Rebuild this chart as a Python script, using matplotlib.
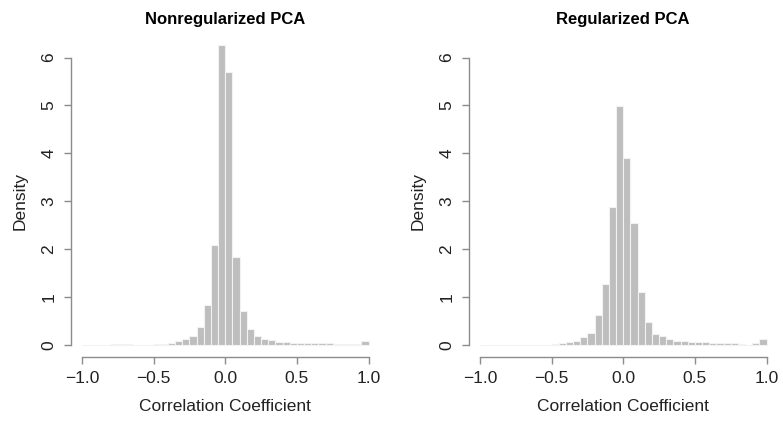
import numpy as np
import matplotlib.pyplot as plt

plt.rcParams['font.family'] = ['Liberation Sans', 'DejaVu Sans']

# histogram bins: 40 bins of 0.05 from -1 to 1
bin_edges = np.linspace(-1, 1, 41)

# density values
dens_nonreg = [0.005, 0.008, 0.005, 0.01, 0.015, 0.015, 0.012, 0.008, 0.005, 0.005,
               0.02, 0.03, 0.045, 0.08, 0.12, 0.18, 0.37, 0.84, 2.09, 6.26,
               5.70, 1.83, 0.72, 0.34, 0.195, 0.13, 0.10, 0.07, 0.055, 0.04,
               0.04, 0.035, 0.035, 0.045, 0.045, 0.03, 0.025, 0.02, 0.025, 0.077]
dens_reg = [0.0, 0.0, 0.0, 0.0, 0.0, 0.0, 0.0, 0.002, 0.004, 0.008,
            0.02, 0.04, 0.063, 0.083, 0.17, 0.26, 0.62, 1.28, 2.88, 4.99,
            3.91, 2.55, 1.11, 0.49, 0.24, 0.18, 0.12, 0.083, 0.077, 0.07,
            0.055, 0.055, 0.04, 0.04, 0.04, 0.04, 0.03, 0.007, 0.04, 0.12]

titles = ['Nonregularized PCA', 'Regularized PCA']
xticks = [-1.0, -0.5, 0.0, 0.5, 1.0]
yticks = [0, 1, 2, 3, 4, 5, 6]

fig = plt.figure(figsize=(7.83, 4.22), dpi=100)
W, H = 783, 422
axis_col = '#8c8c8c'

lefts = [70.5, 468.5]
for left, dens, title in zip(lefts, [dens_nonreg, dens_reg], titles):
    ax = fig.add_axes([left / W, (H - 356.7) / H, 309.5 / W, 310.8 / H])
    ax.bar(bin_edges[:-1], dens, width=0.05, align='edge', color='#bebebe',
           edgecolor='#f2f2f2', linewidth=0.8, clip_on=False)
    ax.set_xlim(-1.08, 1.08)
    ax.set_ylim(-0.244, 6.244)
    for s in ['top', 'right']:
        ax.spines[s].set_visible(False)
    ax.spines['left'].set_bounds(0, 6)
    ax.spines['bottom'].set_bounds(-1, 1)
    for s in ['left', 'bottom']:
        ax.spines[s].set_color(axis_col)
        ax.spines[s].set_linewidth(1.0)
    ax.set_xticks(xticks)
    ax.set_xticklabels(['−1.0', '−0.5', '0.0', '0.5', '1.0'])
    ax.set_yticks(yticks)
    ax.set_yticklabels([str(t) for t in yticks], rotation=90, va='center')
    ax.tick_params(colors=axis_col, labelcolor='#222222', labelsize=12.5,
                   length=5, width=1.0, pad=5)
    ax.set_xlabel('Correlation Coefficient', fontsize=12.5, color='#222222', labelpad=10)
    ax.set_ylabel('Density', fontsize=12.5, color='#222222', labelpad=10)
    ax.set_title(title, fontsize=12, fontweight='bold', pad=16)

plt.savefig('out.png', dpi=100)
